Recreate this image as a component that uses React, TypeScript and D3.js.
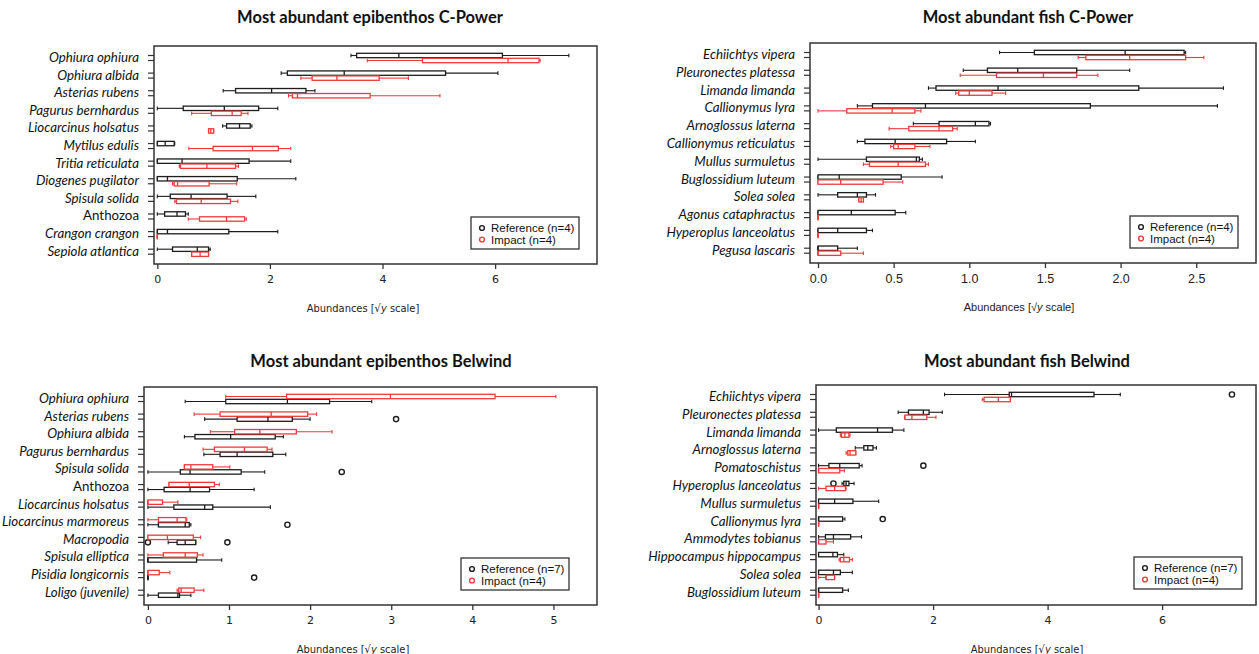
import React, { useEffect, useRef } from "react";
import * as d3 from "d3";

// values are on the sqrt(y) scale, each row: [min, q1, median, q3, max]

// --- epibenthos C-Power
const epiCPowerSpecies = [
  "Ophiura ophiura", "Ophiura albida", "Asterias rubens", "Pagurus bernhardus",
  "Liocarcinus holsatus", "Mytilus edulis", "Tritia reticulata", "Diogenes pugilator",
  "Spisula solida", "Anthozoa", "Crangon crangon", "Sepiola atlantica",
];
const epiCPowerRef = [
  [3.44, 3.54, 4.29, 6.13, 7.31], [2.2, 2.31, 3.32, 5.12, 6.05], [1.17, 1.39, 2.03, 2.64, 2.8],
  [0, 0.46, 1.19, 1.8, 2.14], [1.16, 1.23, 1.46, 1.65, 1.68], [0, 0, 0.14, 0.3, 0.31],
  [0, 0, 0.44, 1.63, 2.37], [0, 0, 0.18, 1.42, 2.46], [0, 0.23, 0.6, 1.24, 1.75],
  [0, 0.13, 0.35, 0.5, 0.55], [0, 0, 0.18, 1.27, 2.14], [0, 0.27, 0.71, 0.91, 0.94],
];
const epiCPowerImp = [
  [3.73, 4.71, 6.23, 6.78, 6.8], [2.55, 2.75, 3.19, 3.94, 4.46], [2.33, 2.4, 2.49, 3.78, 5.02],
  [0.61, 0.96, 1.33, 1.49, 1.61], [0.91, 0.91, 0.95, 1.0, 1.0], [0.56, 0.99, 1.69, 2.15, 2.37],
  [0.39, 0.41, 0.88, 1.39, 1.44], [0.27, 0.3, 0.36, 0.92, 1.41], [0.31, 0.34, 0.78, 1.3, 1.43],
  [0.55, 0.75, 1.23, 1.55, 1.58], [0, 0, 0, 0, 0], [0.61, 0.61, 0.76, 0.91, 0.91],
];
const epiCPowerTicks = [0, 2, 4, 6];

// --- fish C-Power
const fishCPowerSpecies = [
  "Echiichtys vipera", "Pleuronectes platessa", "Limanda limanda", "Callionymus lyra",
  "Arnoglossus laterna", "Callionymus reticulatus", "Mullus surmuletus", "Buglossidium luteum",
  "Solea solea", "Agonus cataphractus", "Hyperoplus lanceolatus", "Pegusa lascaris",
];
const fishCPowerRef = [
  [1.2, 1.43, 2.03, 2.42, 2.43], [0.96, 1.12, 1.32, 1.71, 2.06], [0.73, 0.78, 1.19, 2.12, 2.68],
  [0.26, 0.36, 0.71, 1.8, 2.64], [0.63, 0.8, 1.04, 1.13, 1.14], [0.26, 0.31, 0.51, 0.85, 1.04],
  [0, 0.32, 0.65, 0.67, 0.69], [0, 0, 0.14, 0.55, 0.82], [0, 0.13, 0.26, 0.32, 0.38],
  [0, 0, 0.22, 0.51, 0.58], [0, 0, 0.13, 0.32, 0.36], [0, 0, 0, 0.13, 0.26],
];
const fishCPowerImp = [
  [1.72, 1.77, 2.06, 2.43, 2.55], [0.94, 1.18, 1.49, 1.71, 1.85], [0.91, 0.93, 1.0, 1.15, 1.24],
  [0, 0.19, 0.49, 0.64, 0.68], [0.47, 0.6, 0.8, 0.89, 0.92], [0.48, 0.5, 0.53, 0.64, 0.74],
  [0.3, 0.34, 0.53, 0.71, 0.73], [0, 0, 0.15, 0.43, 0.56], [0.27, 0.27, 0.285, 0.3, 0.3],
  [0, 0, 0, 0, 0], [0, 0, 0, 0, 0], [0, 0, 0, 0.15, 0.3],
];
const fishCPowerTicks = [0, 0.5, 1, 1.5, 2, 2.5];

// --- epibenthos Belwind
const epiBelwindSpecies = [
  "Ophiura ophiura", "Asterias rubens", "Ophiura albida", "Pagurus bernhardus",
  "Spisula solida", "Anthozoa", "Liocarcinus holsatus", "Liocarcinus marmoreus",
  "Macropodia", "Spisula elliptica", "Pisidia longicornis", "Loligo (juvenile)",
];
const epiBelwindRef = [
  [0.46, 0.96, 1.72, 2.24, 2.76], [0.7, 1.1, 1.48, 1.78, 2.0], [0.45, 0.58, 1.02, 1.57, 1.67],
  [0.69, 0.89, 1.1, 1.54, 1.7], [0, 0.4, 0.52, 1.15, 1.44], [0, 0.2, 0.52, 0.76, 1.31],
  [0, 0.32, 0.7, 0.8, 1.51], [0, 0.13, 0.46, 0.51, 0.53], [0.25, 0.36, 0.46, 0.59, 0.59],
  [0, 0, 0, 0.6, 0.91], [0, 0, 0, 0, 0], [0, 0.13, 0.37, 0.39, 0.53],
];
const epiBelwindImp = [
  [0.96, 1.71, 2.99, 4.28, 5.03], [0.57, 0.89, 1.52, 1.97, 2.08], [0.77, 1.07, 1.38, 1.83, 2.27],
  [0.68, 0.82, 1.19, 1.47, 1.53], [0.45, 0.45, 0.53, 0.8, 1.01], [0.26, 0.26, 0.51, 0.82, 0.88],
  [0, 0, 0, 0.18, 0.37], [0, 0.13, 0.36, 0.47, 0.48], [0, 0, 0.24, 0.56, 0.65],
  [0, 0.19, 0.46, 0.61, 0.68], [0, 0, 0, 0.14, 0.27], [0.36, 0.38, 0.41, 0.57, 0.69],
];
const epiBelwindRefOutliers: [string, number][] = [
  ["Asterias rubens", 3.06], ["Spisula solida", 2.39], ["Liocarcinus marmoreus", 1.72],
  ["Macropodia", 0], ["Macropodia", 0.98], ["Pisidia longicornis", 1.31],
];
const epiBelwindTicks = [0, 1, 2, 3, 4, 5];

// --- fish Belwind
const fishBelwindSpecies = [
  "Echiichtys vipera", "Pleuronectes platessa", "Limanda limanda", "Arnoglossus laterna",
  "Pomatoschistus", "Hyperoplus lanceolatus", "Mullus surmuletus", "Callionymus lyra",
  "Ammodytes tobianus", "Hippocampus hippocampus", "Solea solea", "Buglossidium luteum",
];
const fishBelwindRef = [
  [2.2, 3.33, 3.37, 4.81, 5.27], [1.39, 1.57, 1.83, 1.93, 2.16], [0, 0.31, 1.03, 1.29, 1.49],
  [0.64, 0.79, 0.86, 0.95, 1.01], [0, 0.18, 0.37, 0.71, 0.76], [0.41, 0.44, 0.48, 0.53, 0.62],
  [0, 0, 0.28, 0.6, 1.05], [0, 0, 0, 0.42, 0.46], [0, 0.12, 0.26, 0.56, 0.75],
  [0, 0, 0.25, 0.33, 0.44], [0, 0, 0.26, 0.38, 0.59], [0, 0, 0, 0.42, 0.52],
];
const fishBelwindImp = [
  [2.86, 2.89, 3.14, 3.35, 3.35], [1.5, 1.51, 1.63, 1.89, 2.05], [0.38, 0.4, 0.46, 0.53, 0.55],
  [0.48, 0.51, 0.55, 0.65, 0.65], [0, 0, 0, 0.37, 0.45], [0, 0.13, 0.28, 0.47, 0.48],
  [0, 0, 0, 0, 0], [0, 0, 0, 0, 0], [0, 0, 0, 0.13, 0.26],
  [0.36, 0.38, 0.44, 0.54, 0.59], [0, 0.13, 0.13, 0.28, 0.28], [0, 0, 0, 0, 0],
];
const fishBelwindRefOutliers: [string, number][] = [
  ["Echiichtys vipera", 7.22], ["Pomatoschistus", 1.83], ["Hyperoplus lanceolatus", 0.26],
  ["Callionymus lyra", 1.12],
];
const fishBelwindTicks = [0, 2, 4, 6];

const BLACK = "#1c1c1c";
const RED = "#f03a3a";

const panels = [
  {
    title: "Most abundant epibenthos C-Power", species: epiCPowerSpecies,
    ref: epiCPowerRef, imp: epiCPowerImp, refOut: [], ticks: epiCPowerTicks, fmt: d3.format("d"),
    left: 154, right: 597, top: 46, bottom: 264, domain: [-0.059, 7.81], impFirst: false,
    nRef: 4, legend: [471, 217], titleX: 370, titleY: 17, labX: 363, tickFont: "DejaVu Sans",
  },
  {
    title: "Most abundant fish C-Power", species: fishCPowerSpecies,
    ref: fishCPowerRef, imp: fishCPowerImp, refOut: [], ticks: fishCPowerTicks, fmt: d3.format(".1f"),
    left: 810, right: 1256, top: 43, bottom: 263, domain: [-0.053, 2.895], impFirst: false,
    nRef: 4, legend: [1130, 216], titleX: 1028, titleY: 17, labX: 1019, tickFont: "Liberation Sans",
  },
  {
    title: "Most abundant epibenthos Belwind", species: epiBelwindSpecies,
    ref: epiBelwindRef, imp: epiBelwindImp, refOut: epiBelwindRefOutliers, ticks: epiBelwindTicks, fmt: d3.format("d"),
    left: 144, right: 597, top: 387, bottom: 605, domain: [-0.048, 5.537], impFirst: true,
    nRef: 7, legend: [461, 558], titleX: 381, titleY: 361, labX: 353, tickFont: "DejaVu Sans",
  },
  {
    title: "Most abundant fish Belwind", species: fishBelwindSpecies,
    ref: fishBelwindRef, imp: fishBelwindImp, refOut: fishBelwindRefOutliers, ticks: fishBelwindTicks, fmt: d3.format("d"),
    left: 816, right: 1256, top: 385, bottom: 605, domain: [-0.045, 7.64], impFirst: false,
    nRef: 7, legend: [1134, 557], titleX: 1027, titleY: 361, labX: 1027, tickFont: "DejaVu Sans",
  },
];

function drawPanel(svg: any, p: any) {
  const x = d3.scaleLinear().domain(p.domain).range([p.left, p.right]);
  const y = d3.scalePoint().domain(p.species).range([p.top + 12, p.bottom - 12.3]);
  const g = svg.append("g");
  const off = 2.5;
  const bh = 4.4;

  g.append("text")
    .attr("x", p.titleX).attr("y", p.titleY)
    .attr("text-anchor", "middle").attr("dominant-baseline", "central")
    .attr("font-family", "Lato").attr("font-weight", "bold").attr("font-size", 16.5)
    .attr("fill", "#111")
    .text(p.title);

  // species labels + two ticks per row (one per series)
  p.species.forEach((s: string) => {
    const cy = y(s)!;
    g.append("text")
      .attr("x", p.left - 15).attr("y", cy - 1)
      .attr("text-anchor", "end").attr("dominant-baseline", "central")
      .attr("font-family", "Lato").attr("font-size", 13.3)
      .attr("font-style", s === "Anthozoa" ? "normal" : "italic")
      .attr("fill", "#111")
      .text(s);
    [-off, off].forEach((d) => {
      g.append("line")
        .attr("x1", p.left - 6).attr("x2", p.left)
        .attr("y1", cy + d).attr("y2", cy + d)
        .attr("stroke", "#333").attr("stroke-width", 1.2);
    });
  });

  const series = [
    { stats: p.ref, out: p.refOut, color: BLACK, dy: p.impFirst ? off : -off },
    { stats: p.imp, out: [], color: RED, dy: p.impFirst ? -off : off },
  ];

  series.forEach((sr) => {
    const sg = g.append("g").attr("stroke", sr.color).attr("fill", "none");
    sr.stats.forEach((d: number[], i: number) => {
      const cy = y(p.species[i])! + sr.dy;
      const [mn, q1, md, q3, mx] = d;
      sg.append("line").attr("x1", x(mn)).attr("x2", x(q1)).attr("y1", cy).attr("y2", cy).attr("stroke-width", 1.1);
      sg.append("line").attr("x1", x(q3)).attr("x2", x(mx)).attr("y1", cy).attr("y2", cy).attr("stroke-width", 1.1);
      [mn, mx].forEach((v) => {
        sg.append("line").attr("x1", x(v)).attr("x2", x(v))
          .attr("y1", cy - 1.8).attr("y2", cy + 1.8).attr("stroke-width", 1.1);
      });
      sg.append("rect")
        .attr("x", x(q1)).attr("y", cy - bh / 2)
        .attr("width", Math.max(0.01, x(q3) - x(q1))).attr("height", bh)
        .attr("fill", "white").attr("stroke-width", 1.3);
      sg.append("line").attr("x1", x(md)).attr("x2", x(md))
        .attr("y1", cy - bh / 2).attr("y2", cy + bh / 2).attr("stroke-width", 1.3);
    });
    sr.out.forEach(([s, v]: [string, number]) => {
      sg.append("circle").attr("cx", x(v)).attr("cy", y(s)! + sr.dy)
        .attr("r", 2.6).attr("stroke-width", 1.4);
    });
  });

  // frame
  g.append("rect")
    .attr("x", p.left).attr("y", p.top)
    .attr("width", p.right - p.left).attr("height", p.bottom - p.top)
    .attr("fill", "none").attr("stroke", "#333").attr("stroke-width", 1.5);

  // x axis
  const axis = g.append("g").attr("transform", `translate(0,${p.bottom})`)
    .call(d3.axisBottom(x).tickValues(p.ticks).tickFormat(p.fmt).tickSize(5).tickPadding(6));
  axis.select(".domain").remove();
  axis.selectAll("line").attr("stroke", "#333").attr("stroke-width", 1.3);
  axis.selectAll("text")
    .attr("font-family", p.tickFont).attr("font-size", p.tickFont === "Liberation Sans" ? 12.5 : 11)
    .attr("fill", "#222");

  const lab = g.append("text")
    .attr("x", p.labX).attr("y", p.bottom + 44)
    .attr("text-anchor", "middle").attr("dominant-baseline", "central")
    .attr("font-family", p.tickFont === "Liberation Sans" ? "Liberation Sans" : "DejaVu Sans Condensed")
    .attr("font-size", 11).attr("fill", "#222");
  lab.append("tspan").text("Abundances [√");
  lab.append("tspan").attr("font-style", "italic").text("y");
  lab.append("tspan").text("  scale]");

  // legend
  const [lx, ly] = p.legend;
  const lg = g.append("g");
  lg.append("rect").attr("x", lx).attr("y", ly).attr("width", 108).attr("height", 32)
    .attr("fill", "white").attr("stroke", "#333").attr("stroke-width", 1.3);
  const items = [
    { label: `Reference (n=${p.nRef})`, color: BLACK },
    { label: "Impact (n=4)", color: RED },
  ];
  items.forEach((it, i) => {
    const cy = ly + 11 + i * 11.5;
    lg.append("circle").attr("cx", lx + 11).attr("cy", cy).attr("r", 2.4)
      .attr("fill", "none").attr("stroke", it.color).attr("stroke-width", 1.4);
    lg.append("text").attr("x", lx + 20).attr("y", cy)
      .attr("dominant-baseline", "central")
      .attr("font-family", "Liberation Sans").attr("font-size", 11.5).attr("fill", "#111")
      .text(it.label);
  });
}

export default function App() {
  const ref = useRef<SVGSVGElement>(null);

  useEffect(() => {
    const svg = d3.select(ref.current);
    svg.selectAll("*").remove();
    panels.forEach((p) => drawPanel(svg, p));
  }, []);

  return (
    <svg
      ref={ref}
      width={1259}
      height={654}
      style={{ position: "absolute", left: 0, top: 0, background: "white" }}
    />
  );
}
